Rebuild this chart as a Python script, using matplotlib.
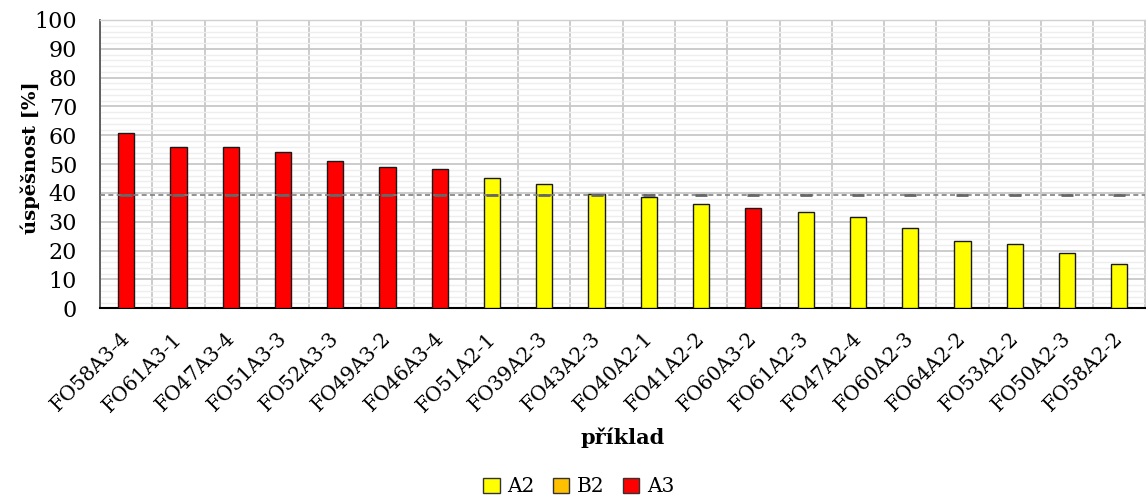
import matplotlib
matplotlib.use("Agg")
import matplotlib.pyplot as plt
import matplotlib.transforms as mtransforms
import numpy as np
from matplotlib.ticker import MultipleLocator
from matplotlib.patches import Patch

categories = ["FO58A3-4", "FO61A3-1", "FO47A3-4", "FO51A3-3", "FO52A3-3", "FO49A3-2",
              "FO46A3-4", "FO51A2-1", "FO39A2-3", "FO43A2-3", "FO40A2-1", "FO41A2-2",
              "FO60A3-2", "FO61A2-3", "FO47A2-4", "FO60A2-3", "FO64A2-2", "FO53A2-2",
              "FO50A2-3", "FO58A2-2"]
values = [60.8, 56.1, 55.8, 54.2, 51.1, 49.0, 48.4, 45.3, 43.1, 39.8, 38.7, 36.2,
          34.9, 33.3, 31.7, 27.7, 23.3, 22.4, 19.2, 15.3]
groups = ["A3", "A3", "A3", "A3", "A3", "A3", "A3", "A2", "A2", "A2", "A2", "A2",
          "A3", "A2", "A2", "A2", "A2", "A2", "A2", "A2"]
average = 39.4
group_colors = {"A2": "#FFFF00", "B2": "#FFC000", "A3": "#FF0000"}
legend_order = ["A2", "B2", "A3"]

plt.rcParams['font.family'] = ['DejaVu Serif']

fig = plt.figure(figsize=(11.46, 4.98), dpi=100)
ax = fig.add_axes([100/1146, 1 - 308.3/498, 1 - 100/1146 - 0.0005, (308.3 - 20)/498])

x = np.arange(len(categories))
ax.bar(x, values, width=0.31, color=[group_colors[g] for g in groups],
       edgecolor="#1a1a1a", linewidth=1.0, zorder=3)

ax.axhline(average, color="#808080", linestyle=(0, (3, 2)), linewidth=1.2, zorder=4)
ax.plot(x, [average] * len(x), linestyle="none", marker="_", markersize=9,
        markeredgewidth=2, color="#666666", zorder=5)

ax.set_xlim(-0.5, len(categories) - 0.5)
ax.set_ylim(0, 100)
ax.yaxis.set_major_locator(MultipleLocator(10))
ax.yaxis.set_minor_locator(MultipleLocator(2))
ax.set_xticks(x)
ax.set_xticks(np.arange(-0.5, len(categories), 1.0), minor=True)
ax.grid(which="major", axis="y", color="#c8c8c8", linewidth=1.3, zorder=0)
ax.grid(which="minor", axis="y", color="#eeeeee", linewidth=1.0, zorder=0)
ax.grid(which="minor", axis="x", color="#c8c8c8", linewidth=1.3, zorder=0)
ax.set_axisbelow(True)

ax.tick_params(axis="both", which="both", length=0)
ax.tick_params(axis="y", labelsize=16, pad=16.5)
ax.set_xticklabels(categories, rotation=45, ha="right", va="top",
                   rotation_mode="anchor", fontsize=14.5)
ax.tick_params(axis="x", pad=12)
offset = mtransforms.ScaledTranslation(-6/100, -4/100, fig.dpi_scale_trans)
for lbl in ax.get_xticklabels():
    lbl.set_transform(lbl.get_transform() + offset)

for s in ["top", "right"]:
    ax.spines[s].set_color("#d0d0d0")
    ax.spines[s].set_linewidth(1.0)
ax.spines["left"].set_color("#555555")
ax.spines["left"].set_linewidth(1.3)
ax.spines["bottom"].set_color("#000000")
ax.spines["bottom"].set_linewidth(1.5)

fig.text(30/1146, 1 - 158/498, "úspěšnost [%]", rotation=90, ha="center", va="center",
         fontsize=14, fontweight="bold")
fig.text(623/1146, 1 - 438/498, "příklad", ha="center", va="center",
         fontsize=15, fontweight="bold")

handles = [Patch(facecolor=group_colors[g], edgecolor="#333333", linewidth=1.0, label=g)
           for g in legend_order]
fig.legend(handles=handles, loc="center", bbox_to_anchor=(579/1146, 1 - 487/498),
           ncol=3, frameon=False, fontsize=14.5, handlelength=0.8, handleheight=0.8,
           handletextpad=0.4, columnspacing=0.9)

fig.savefig("out.png", dpi=100)
